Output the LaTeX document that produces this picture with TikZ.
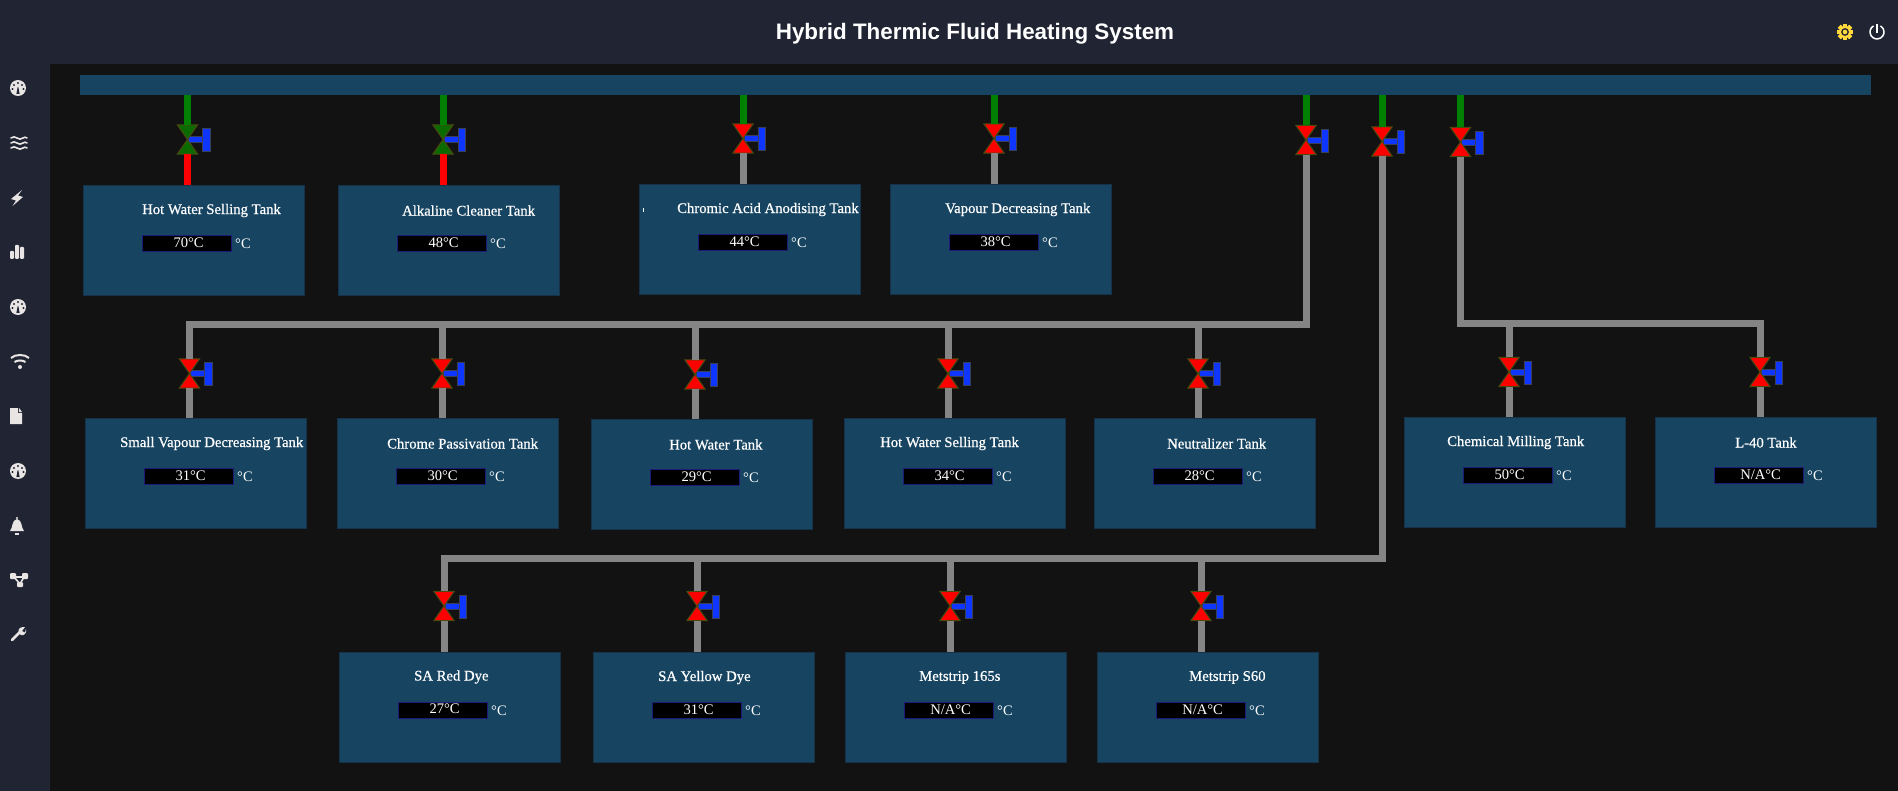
\documentclass[tikz,border=0pt]{standalone}
\usepackage{fontspec}
\setmainfont{Liberation Serif}
\newfontfamily\headfont{Liberation Sans}
\newfontfamily\titlefont[FakeBold=0.6]{Liberation Serif}
\definecolor{pagebg}{HTML}{121212}
\definecolor{barbg}{HTML}{212533}
\definecolor{tankfill}{HTML}{174461}
\definecolor{tankedge}{HTML}{16314A}
\definecolor{boxedge}{HTML}{1E1A78}
\definecolor{pipegray}{HTML}{858585}
\definecolor{pipegreen}{HTML}{008000}
\definecolor{valveedge}{HTML}{4A4A10}
\definecolor{valvegreen}{HTML}{0B6A00}
\definecolor{handleblue}{HTML}{0F36FF}
\definecolor{handleedge}{HTML}{3A3F58}
\definecolor{iconc}{HTML}{E9E5E5}
\definecolor{gearc}{HTML}{FFD83C}
\tikzset{
  x=1pt,y=-1pt,
  tankbox/.style={draw=tankedge,line width=1pt,fill=tankfill,minimum width=221pt,minimum height=110pt,inner sep=0pt,anchor=north west},
  tanktitle/.style={text=white,font=\titlefont\fontsize{14.7}{16}\selectfont,anchor=west,inner sep=0pt},
  valbox/.style={draw=boxedge,line width=1.2pt,fill=black,minimum width=89pt,minimum height=16pt,inner sep=0pt,anchor=north west,text=white,font=\fontsize{14.6}{16}\selectfont},
  unitlab/.style={text=white,font=\fontsize{14.5}{16}\selectfont,anchor=west,inner sep=0pt},
  pipe/.style={line width=7pt,color=pipegray,line join=miter},
  greenpipe/.style={line width=7pt,color=pipegreen},
  redpipe/.style={line width=7pt,color=red},
  valvebody/.style={minimum width=20pt,minimum height=29pt,inner sep=0pt},
  iconline/.style={draw=iconc,line width=1.6pt,line cap=round},
}
% name, x, y, title offset, title, value
\newcommand{\tank}[6]{%
  \node[tankbox] (#1) at (#2-0.5,#3) {};
  \node[tanktitle] (#1t) at (#2+#4,#3+25.5) {#5};
  \node[valbox] (#1v) at (#2+59,#3+50) {\hspace{3pt}\raisebox{2pt}{#6°C}};
  \node[unitlab] (#1u) at (#2+152,#3+59) {°C};
}
% name, x, centre y, colour
\newcommand{\valve}[4]{%
  \node[valvebody] (#1) at (#2,#3) {};
  \draw[draw=handleedge,line width=1pt,fill=handleblue] (#2+1,#3-2.5) rectangle (#2+15,#3+3.5);
  \draw[draw=handleedge,line width=1pt,fill=handleblue] (#2+15,#3-10.5) rectangle (#2+22.5,#3+12.5);
  \draw[draw=valveedge,line width=1pt,fill=#4,line join=miter] (#1.north west) -- (#1.north east) -- (#1.south west) -- (#1.south east) -- cycle;
}
\newcommand{\gaugeicon}[2]{%
  \fill[iconc] (#1,#2) circle (8);
  \fill[barbg] (#1-0.3,#2-1) -- (#1-1.6,#2+6) -- (#1+1.6,#2+6) -- (#1+0.3,#2-1) -- cycle;
  \fill[barbg] (#1,#2-5) circle (1.1);
  \fill[barbg] (#1-4,#2-3) circle (1.1);
  \fill[barbg] (#1+4,#2-3) circle (1.1);
  \fill[barbg] (#1-5.5,#2+1) circle (1.1);
  \fill[barbg] (#1+5.5,#2+1) circle (1.1);
}
\begin{document}
\begin{tikzpicture}
\useasboundingbox (0,0) rectangle (1898,791);
\fill[pagebg] (0,0) rectangle (1898,791);
\fill[barbg] (0,0) rectangle (1898,64);
\fill[barbg] (0,0) rectangle (50,791);
\node[text=white,font=\headfont\fontsize{22.4}{26}\selectfont\bfseries,inner sep=0pt] (head) at (975,34) {Hybrid Thermic Fluid Heating System};
% bus
\node[fill=tankfill,minimum width=1791pt,minimum height=20pt,inner sep=0pt,anchor=north west] (bus) at (80,75) {};
% tanks row 1
\tank{ta}{83}{185}{59}{Hot Water Selling Tank}{70}
\tank{tb}{338}{185}{64}{Alkaline Cleaner Tank}{48}
\tank{tc}{639}{184}{38}{Chromic Acid Anodising Tank}{44}
\tank{td}{890}{184}{55}{Vapour Decreasing Tank}{38}
% row 2
\tank{te}{85}{418}{35}{Small Vapour Decreasing Tank}{31}
\tank{tf}{337}{418}{50}{Chrome Passivation Tank}{30}
\tank{tg}{591}{419}{78}{Hot Water Tank}{29}
\tank{th}{844}{418}{36}{Hot Water Selling Tank}{34}
\tank{ti}{1094}{418}{73}{Neutralizer Tank}{28}
\tank{tj}{1404}{417}{43}{Chemical Milling Tank}{50}
\tank{tk}{1655}{417}{80}{L-40 Tank}{N/A}
% row 3
\tank{tl}{339}{651.5}{75}{SA Red Dye}{27}
\tank{tm}{593}{652}{65}{SA Yellow Dye}{31}
\tank{tn}{845}{652}{74}{Metstrip 165s}{N/A}
\tank{to}{1097}{652}{92}{Metstrip S60}{N/A}
\draw[white,line width=0.8pt] (643,208) -- (643,212);
% valves
\valve{va}{187.5}{139.5}{valvegreen}
\valve{vb}{443}{139.5}{valvegreen}
\valve{vc}{743}{138.5}{red}
\valve{vd}{994}{138.5}{red}
\valve{ve}{1306}{140}{red}
\valve{vf}{1382}{141.5}{red}
\valve{vg}{1460.5}{142}{red}
\valve{vh}{189.5}{373.5}{red}
\valve{vi}{442}{373.5}{red}
\valve{vj}{695}{374.5}{red}
\valve{vk}{948}{373.5}{red}
\valve{vl}{1198}{373.5}{red}
\valve{vm}{1509}{372}{red}
\valve{vn}{1760}{372}{red}
\valve{vo}{444}{606}{red}
\valve{vp}{697}{606}{red}
\valve{vq}{950}{606}{red}
\valve{vr}{1201}{606}{red}
% feed pipes
\foreach \v in {va,vb,vc,vd,ve,vf,vg}{\draw[greenpipe] (\v.north) -- (\v.north |- bus.south);}
\draw[redpipe] (va.south) -- (va.south |- ta.north);
\draw[redpipe] (vb.south) -- (vb.south |- tb.north);
\draw[pipe] (vc.south) -- (vc.south |- tc.north);
\draw[pipe] (vd.south) -- (vd.south |- td.north);
% headers
\coordinate (ha) at (189.5,325);
\coordinate (hb) at (444,558.5);
\coordinate (hc) at (1760,323.5);
\draw[pipe] (ve.south) |- (ha) -- (vh.north);
\draw[pipe] (vf.south) |- (hb) -- (vo.north);
\draw[pipe] (vg.south) |- (hc) -- (vn.north);
\foreach \v in {vi,vj,vk,vl}{\draw[pipe] (\v.north) -- (\v.north |- ha);}
\foreach \v in {vp,vq,vr}{\draw[pipe] (\v.north) -- (\v.north |- hb);}
\draw[pipe] (vm.north) -- (vm.north |- hc);
\draw[pipe] (vh.south) -- (vh.south |- te.north);
\draw[pipe] (vi.south) -- (vi.south |- tf.north);
\draw[pipe] (vj.south) -- (vj.south |- tg.north);
\draw[pipe] (vk.south) -- (vk.south |- th.north);
\draw[pipe] (vl.south) -- (vl.south |- ti.north);
\draw[pipe] (vm.south) -- (vm.south |- tj.north);
\draw[pipe] (vn.south) -- (vn.south |- tk.north);
\draw[pipe] (vo.south) -- (vo.south |- tl.north);
\draw[pipe] (vp.south) -- (vp.south |- tm.north);
\draw[pipe] (vq.south) -- (vq.south |- tn.north);
\draw[pipe] (vr.south) -- (vr.south |- to.north);
% sidebar icons
\gaugeicon{18}{88}
\gaugeicon{18}{307}
\gaugeicon{18}{471}
\foreach \yy in {138,143,148}{\draw[iconline] (11,\yy) .. controls (13,\yy-1.5) and (15,\yy-1.5) .. (17,\yy) .. controls (19,\yy+1.5) and (21,\yy+1.5) .. (23,\yy) .. controls (24,\yy-1) and (26,\yy-1) .. (27,\yy);}
\fill[iconc] (22,190) -- (11,199) -- (16,200.5) -- (12.5,206) -- (23,197) -- (18,195.5) -- cycle;
\fill[iconc,rounded corners=1pt] (10,251) rectangle (14,259);
\fill[iconc,rounded corners=1pt] (15,245) rectangle (19,259);
\fill[iconc,rounded corners=1pt] (20,247) rectangle (24,259);
\draw[draw=iconc,line width=2pt] (11,358) .. controls (15,354) and (25,354) .. (29,358);
\draw[draw=iconc,line width=2pt] (14.5,362) .. controls (17,360) and (23,360) .. (25.5,362);
\fill[iconc] (20,367) circle (2);
\fill[iconc] (10,408) -- (18,408) -- (18,413) -- (22,413) -- (22,424) -- (10,424) -- cycle;
\fill[iconc] (19,408) -- (22,412) -- (19,412) -- cycle;
\fill[iconc] (10,531) .. controls (13,528) and (11.5,520) .. (17,519) .. controls (22.5,520) and (21,528) .. (24,531) -- cycle;
\fill[iconc] (17,518) circle (1.2);
\fill[iconc] (15,533) rectangle (19,534.5);
\draw[draw=iconc,line width=1.6pt] (14,577) -- (20,584) -- (24,577) -- cycle;
\fill[iconc,rounded corners=1pt] (10,573) rectangle (16,579);
\fill[iconc,rounded corners=1pt] (22,573) rectangle (28,579);
\fill[iconc,rounded corners=1pt] (17,582) rectangle (23,587);
\draw[draw=iconc,line width=2.6pt,line cap=round] (12,640) -- (21,631);
\fill[iconc] (19,633) .. controls (17,628) and (21,627) .. (25,627) -- (22,631) -- (25,632.5) -- (26,629) .. controls (27,633) and (24,636) .. (21,635) -- cycle;
% header icons
\foreach \a in {0,45,...,315}{\fill[gearc,rotate around={\a:(1845,32)}] (1843,24) rectangle (1847,40);}
\fill[gearc] (1845,32) circle (5.8);
\draw[barbg,line width=1.3pt] (1845,32) circle (3.2);
\draw[white,line width=1.5pt] (1873.5,25.9) arc[start angle=120,end angle=420,radius=7pt];
\draw[white,line width=1.5pt] (1877,24) -- (1877,33);
\end{tikzpicture}
\end{document}
